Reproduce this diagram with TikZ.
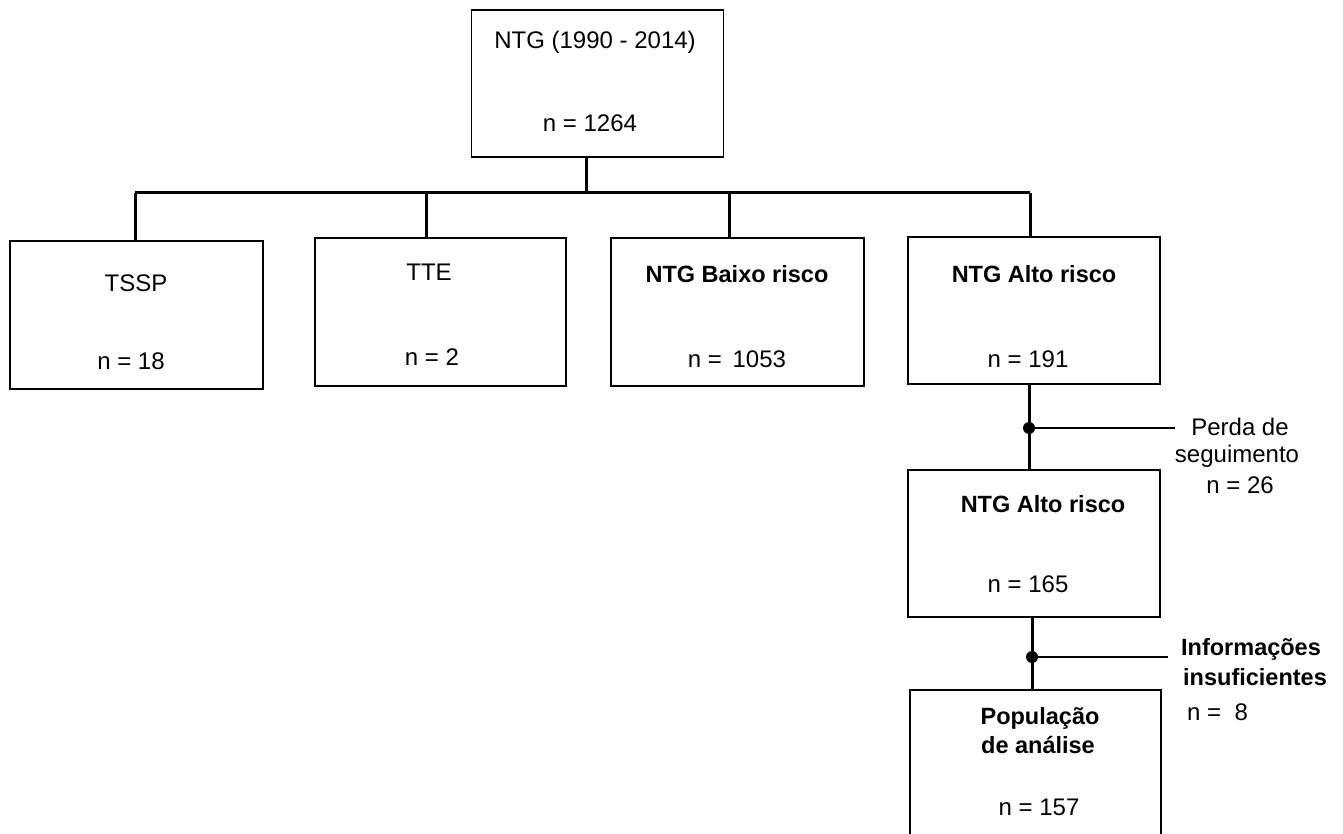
\documentclass[tikz,border=0pt]{standalone}
\usepackage{fontspec}
\setmainfont{Liberation Sans}
\begin{document}
\begin{tikzpicture}[x=1pt, y=-1pt,
    box/.style={rectangle, draw, line width=1.4pt, minimum width=252pt, minimum height=147pt, inner sep=0pt},
    txt/.style={inner sep=0pt, anchor=base, font=\fontsize{24}{28}\selectfont},
    btxt/.style={txt, font=\fontsize{23.5}{28}\selectfont\bfseries},
    bar/.style={line width=3pt},
    side/.style={line width=1.4pt},
    dot/.style={circle, fill, inner sep=0pt, minimum size=12pt}
]
    \clip (0,0) rectangle (1343,834);

    % Top box
    \node[box] (total) at (597.5,83.5) {};
    \node[txt] (totalA) at (595,49) {NTG (1990 - 2014)};
    \node[txt] (totalB) at (590,132) {n = 1264};

    % First level
    \node[box, minimum width=253pt, minimum height=148pt] (tssp) at (136.5,315) {};
    \node[txt] (tsspA) at (136,291) {TSSP};
    \node[txt] (tsspB) at (131,369) {n = 18};

    \node[box, minimum width=251pt, minimum height=148pt] (tte) at (440.5,312) {};
    \node[txt] (tteA) at (429,280) {TTE};
    \node[txt] (tteB) at (432,365) {n = 2};

    \node[box, minimum width=253pt, minimum height=148pt] (baixo) at (737.5,312) {};
    \node[btxt] (baixoA) at (737,283) {NTG Baixo risco};
    \node[txt] (baixoB) at (737,367) {n =\, 1053};

    \node[box] (alto) at (1034,310.5) {};
    \node[btxt] (altoA) at (1034,283) {NTG Alto risco};
    \node[txt] (altoB) at (1028,367) {n = 191};

    % Follow-up
    \node[box] (alto2) at (1034,543.5) {};
    \node[btxt] (alto2A) at (1043,512) {NTG Alto risco};
    \node[txt] (alto2B) at (1028,592) {n = 165};

    \node[box, minimum width=251pt, minimum height=160pt] (pop) at (1035.5,770) {};
    \node[btxt] (popA) at (1040,724) {População};
    \node[btxt] (popB) at (1038,753) {de análise};
    \node[txt] (popC) at (1039,815) {n = 157};

    % Exclusions
    \node[txt] (perdaA) at (1240,435) {Perda de};
    \node[txt] (perdaB) at (1237,462) {seguimento};
    \node[txt] (perdaC) at (1240,493) {n = 26};

    \node[btxt] (infoA) at (1251,655) {Informações};
    \node[btxt] (infoB) at (1255,685) {insuficientes};
    \node[txt, anchor=base west] (infoC) at (1187,720) {n =\ \ 8};

    % Bus
    \coordinate (busL) at (135,193);
    \coordinate (busR) at (1030,193);
    \draw[bar] (busL) -- (busR);
    \draw[bar] ([xshift=-11.5pt]total.south) -- ([xshift=-11.5pt]total.south |- busL);
    \draw[bar] (busL) -- (busL |- tssp.north);
    \draw[bar] ([xshift=-14.5pt]tte.north) -- ([xshift=-14.5pt]tte.north |- busL);
    \draw[bar] ([xshift=-8.5pt]baixo.north) -- ([xshift=-8.5pt]baixo.north |- busL);
    \draw[bar] (busR) -- (busR |- alto.north);

    % Exclusion branches
    \node[dot] (d1) at (1029,428) {};
    \coordinate (e1) at (1175,428);
    \draw[bar] (alto.south -| d1) -- (alto2.north -| d1);
    \draw[side] (d1) -- (e1);

    \node[dot] (d2) at (1032,657) {};
    \coordinate (e2) at (1168,657);
    \draw[bar] (alto2.south -| d2) -- (pop.north -| d2);
    \draw[side] (d2) -- (e2);
\end{tikzpicture}
\end{document}
